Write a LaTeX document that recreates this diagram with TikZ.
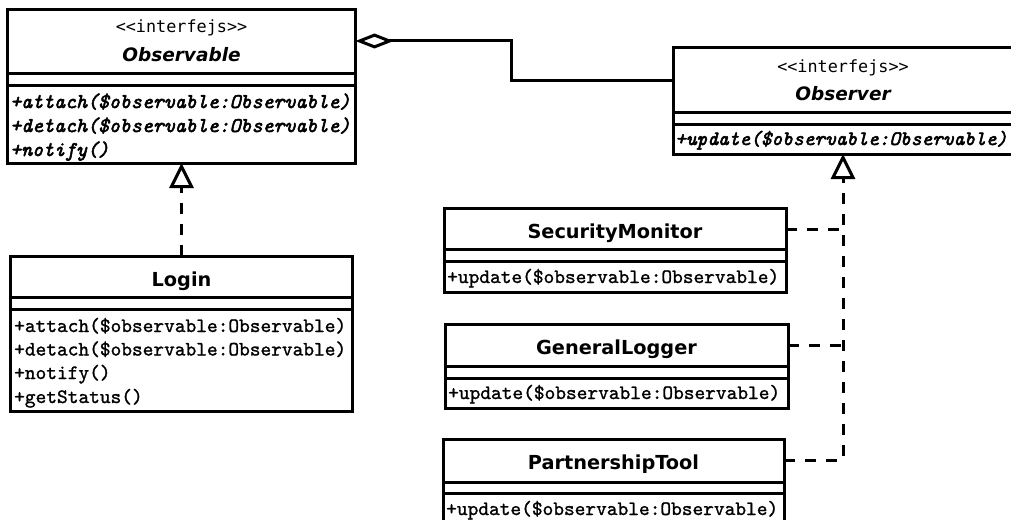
\documentclass[tikz,border=0pt]{standalone}
\usepackage{fontspec}
\setsansfont{DejaVu Sans}
\newfontfamily\stfont{DejaVu Sans Mono}
\newfontfamily\methfont{lmmono10-regular.otf}[FakeBold=1.2]
\newfontfamily\imethfont{lmmono10-italic.otf}[FakeBold=2.6]
\usetikzlibrary{arrows.meta}
\tikzset{
  cls/.style={draw, line width=3pt, rectangle, anchor=north west, inner sep=0pt, outer sep=0pt},
  divider/.style={line width=3pt},
  stereo/.style={font=\stfont\fontsize{16.8}{16.8}\selectfont, anchor=base, inner sep=0pt},
  iname/.style={font=\sffamily\bfseries\itshape\fontsize{18.5}{18.5}\selectfont, anchor=base, inner sep=0pt},
  cname/.style={font=\sffamily\bfseries\fontsize{19.3}{19.3}\selectfont, anchor=base, inner sep=0pt},
  imeth/.style={font=\imethfont\fontsize{20.9}{20.9}\selectfont, anchor=base west, inner sep=0pt},
  imethr/.style={font=\imethfont\fontsize{20.4}{20.4}\selectfont, anchor=base west, inner sep=0pt},
  meth/.style={font=\methfont\fontsize{20.4}{20.4}\selectfont, anchor=base west, inner sep=0pt},
  aggr/.style={line width=3pt, {Diamond[open, length=38pt, width=15pt]}-},
  realiz/.style={line width=3pt, dash pattern=on 11pt off 10pt, -{Triangle[open, length=25pt, width=24pt]}},
  realizline/.style={line width=3pt, dash pattern=on 11pt off 10pt},
}
\newcommand\stereotxt{<\kern0pt<interfejs>\kern0pt>}
\begin{document}
\begin{tikzpicture}[x=1pt, y=-1pt]
\useasboundingbox (0,0) rectangle (1011,519);

% Observable
\node[cls, minimum width=348pt, minimum height=153pt] (obs) at (7.5,10) {};
\draw[divider] (7.5,73) -- (355.5,73);
\draw[divider] (7.5,85) -- (355.5,85);
\node[stereo] (obs-st) at (181.5,33) {\stereotxt};
\node[iname] (obs-n) at (181.5,61) {Observable};
\node[imeth] (obs-m1) at (10,108) {+attach(\$observable:Observable)};
\node[imeth] (obs-m2) at (10,132) {+detach(\$observable:Observable)};
\node[imeth] (obs-m3) at (10,156) {+notify()};

% Observer
\node[cls, minimum width=340pt, minimum height=106pt] (obsr) at (673,48) {};
\draw[divider] (673,112.5) -- (1013,112.5);
\draw[divider] (673,124.5) -- (1013,124.5);
\node[stereo] (obsr-st) at (843,73) {\stereotxt};
\node[iname] (obsr-n) at (843,100) {Observer};
\node[imethr] (obsr-m1) at (675,145) {+update(\$observable:Observable)};

% Login
\node[cls, minimum width=342pt, minimum height=155pt] (login) at (10.5,256) {};
\draw[divider] (10.5,297) -- (352.5,297);
\draw[divider] (10.5,309) -- (352.5,309);
\node[cname] (login-n) at (181.5,286) {Login};
\node[meth] (login-m1) at (14,332) {+attach(\$observable:Observable)};
\node[meth] (login-m2) at (14,355.5) {+detach(\$observable:Observable)};
\node[meth] (login-m3) at (14,379) {+notify()};
\node[meth] (login-m4) at (14,403) {+getStatus()};

% SecurityMonitor
\node[cls, minimum width=342pt, minimum height=84pt] (sm) at (444,208) {};
\draw[divider] (444,249.5) -- (786,249.5);
\draw[divider] (444,261.5) -- (786,261.5);
\node[cname] (sm-n) at (615,238) {SecurityMonitor};
\node[meth] (sm-m1) at (447,283) {+update(\$observable:Observable)};

% GeneralLogger
\node[cls, minimum width=343pt, minimum height=84pt] (gl) at (445,324) {};
\draw[divider] (445,366) -- (788,366);
\draw[divider] (445,378) -- (788,378);
\node[cname] (gl-n) at (616.5,354) {GeneralLogger};
\node[meth] (gl-m1) at (448,399) {+update(\$observable:Observable)};

% PartnershipTool
\node[cls, minimum width=341pt, minimum height=86pt] (pt) at (443,439) {};
\draw[divider] (443,482) -- (784,482);
\draw[divider] (443,493) -- (784,493);
\node[cname] (pt-n) at (613.5,469) {PartnershipTool};
\node[meth] (pt-m1) at (446,515) {+update(\$observable:Observable)};

% connectors
\coordinate (bend) at (511,41);
\draw[aggr] ([yshift=-31pt]obs.north east) -- (bend) |- ([yshift=-32pt]obsr.north west);
\draw[realiz] (login.north) -- (obs.south);
\draw[realiz] ([yshift=-21pt]pt.north east) -| (obsr.south);
\draw[realizline] ([yshift=-21pt]sm.north east) -- ([yshift=-21pt]sm.north east -| obsr.south);
\draw[realizline] ([yshift=-21pt]gl.north east) -- ([yshift=-21pt]gl.north east -| obsr.south);
\end{tikzpicture}
\end{document}
